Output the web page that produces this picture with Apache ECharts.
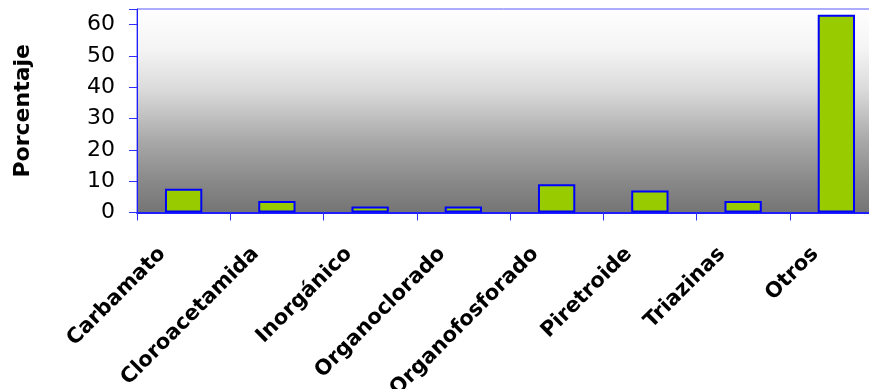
<!DOCTYPE html>
<html>
<head>
<meta charset="utf-8">
<script src="https://cdn.jsdelivr.net/npm/echarts@6/dist/echarts.min.js"></script>
<style>
html,body{margin:0;padding:0;background:#fff;}
#c{width:869px;height:389px;}
</style>
</head>
<body>
<div id="c"></div>
<script>
var categories = ['Carbamato','Cloroacetamida','Inorgánico','Organoclorado','Organofosforado','Piretroide','Triazinas','Otros'];
var values = [7.6, 3.7, 1.9, 1.9, 9.0, 7.0, 3.7, 63.2];
var yTicks = [0, 10, 20, 30, 40, 50, 60];
var yAxisTitle = 'Porcentaje';

var chart = echarts.init(document.getElementById('c'), null, {renderer:'canvas'});
chart.setOption({
  animation: false,
  grid: {
    left: 137, top: 9, width: 746, height: 203.5,
    containLabel: false,
    outerBoundsMode: 'none',
    show: true,
    borderColor: '#5a5aff', borderWidth: 1,
    backgroundColor: {
      type: 'linear', x: 0, y: 0, x2: 0, y2: 1,
      colorStops: [
        {offset: 0, color: '#ffffff'},
        {offset: 0.2, color: '#f4f4f4'},
        {offset: 0.4, color: '#dadada'},
        {offset: 0.65, color: '#a8a8a8'},
        {offset: 0.85, color: '#888888'},
        {offset: 1, color: '#747474'}
      ]
    }
  },
  xAxis: {
    type: 'category',
    data: categories,
    axisLine: {lineStyle: {color: '#2020ff', width: 2}},
    axisTick: {show: true, length: 8, lineStyle: {color: '#3030ff', width: 1}},
    axisLabel: {
      interval: 0, rotate: 45, margin: 17,
      padding: [0, 30, 0, 0],
      fontFamily: 'DejaVu Sans', fontWeight: 'bold', fontSize: 21, color: '#000'
    }
  },
  yAxis: {
    type: 'value', min: 0, max: 65, interval: 10,
    name: yAxisTitle, nameLocation: 'middle', nameRotate: 90, nameGap: 103,
    nameTextStyle: {fontFamily: 'DejaVu Sans', fontWeight: 'bold', fontSize: 22, color: '#000'},
    axisLine: {show: true, lineStyle: {color: '#2020ff', width: 1}},
    axisTick: {show: true, length: 8, lineStyle: {color: '#3030ff'}},
    splitLine: {show: false},
    axisLabel: {
      margin: 22, fontFamily: 'DejaVu Sans', fontSize: 22, color: '#000',
      formatter: function (v) { return yTicks.indexOf(v) >= 0 ? String(v) : ''; }
    }
  },
  series: [{
    type: 'bar',
    data: values,
    barWidth: '40%',
    itemStyle: {color: '#99cc00', borderColor: '#0000ff', borderWidth: 2}
  }]
});
</script>
</body>
</html>
